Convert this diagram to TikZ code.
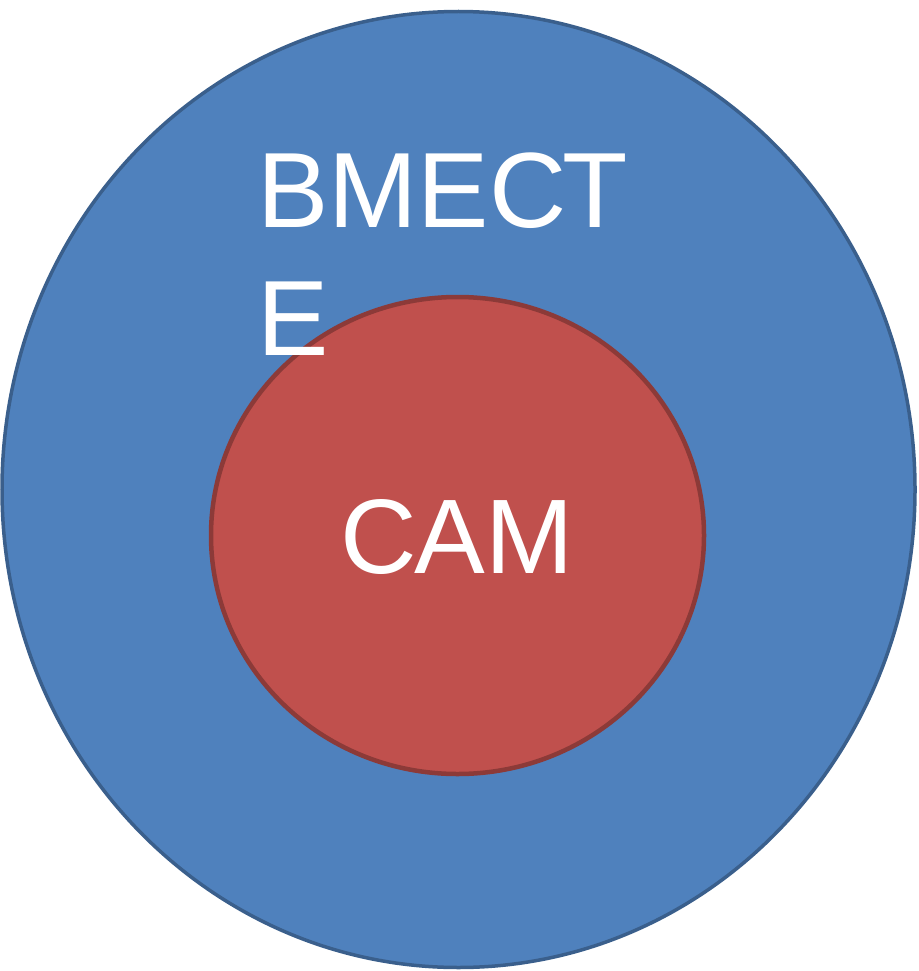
\documentclass[tikz,border=0pt]{standalone}
\usepackage{fontspec}
\setmainfont{Liberation Sans}
\definecolor{bluefill}{HTML}{4F81BD}
\definecolor{blueline}{HTML}{3A5F8C}
\definecolor{redfill}{HTML}{C0504D}
\definecolor{redline}{HTML}{8C3A38}
\begin{document}
\begin{tikzpicture}[x=1pt,y=-1pt,
  outer/.style={fill=bluefill,draw=blueline,line width=3.5pt},
  inner/.style={fill=redfill,draw=redline,line width=4.5pt},
  label/.style={text=white,inner sep=0pt,font=\fontsize{107}{128}\selectfont}]
\useasboundingbox (0,0) rectangle (918,971);
\path[outer] (458.5,489.5) ellipse [x radius=456.5, y radius=478];
\path[inner] (457.5,535.5) ellipse [x radius=246.5, y radius=238.5];
\node[label,anchor=base west] (t1) at (257,227) {ВМЕСТ};
\node[label,anchor=base west] (t2) at (257,355) {Е};
\node[label,anchor=base,font=\fontsize{106}{128}\selectfont] (t3) at (457,573) {САМ};
\end{tikzpicture}
\end{document}
